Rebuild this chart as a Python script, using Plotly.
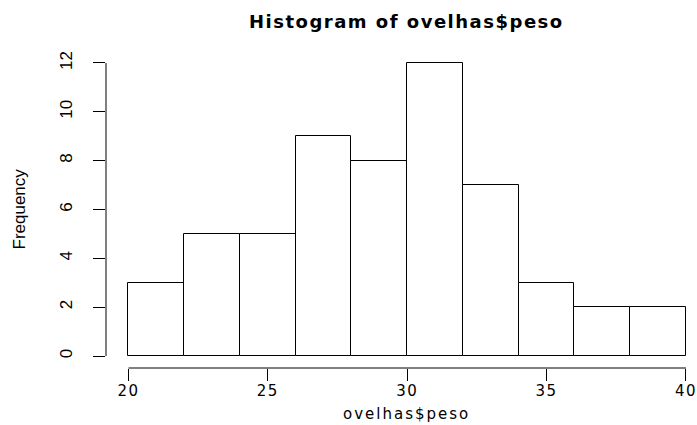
import plotly.graph_objects as go

# Histogram of sheep weights (ovelhas$peso), 2-kg bins
bin_edges = [20, 22, 24, 26, 28, 30, 32, 34, 36, 38, 40]
counts = [3, 5, 5, 9, 8, 12, 7, 3, 2, 2]
x_ticks = [20, 25, 30, 35, 40]
y_ticks = [0, 2, 4, 6, 8, 10, 12]

title_text = "Histogram of ovelhas$peso"
x_title = "ovelhas$peso"
y_title = "Frequency"

mids = [(a + b) / 2 for a, b in zip(bin_edges[:-1], bin_edges[1:])]
widths = [b - a for a, b in zip(bin_edges[:-1], bin_edges[1:])]

WIDE = "DejaVu Sans, Liberation Sans, Arial, sans-serif"
NARROW = "Liberation Sans Narrow, Liberation Sans, Arial, sans-serif"


def spaced(s, px):
    return f'<span style="letter-spacing:{px}px">{s}</span>'


fig = go.Figure()
fig.add_trace(go.Bar(
    x=mids, y=counts, width=widths,
    marker=dict(color="white", line=dict(color="black", width=1)),
    hoverinfo="x+y", showlegend=False,
))

fig.update_layout(
    width=697, height=425,
    margin=dict(l=106, r=0, t=51, b=57),
    paper_bgcolor="white", plot_bgcolor="white",
    bargap=0,
    xaxis=dict(
        range=[19.193, 40.395], showgrid=False, zeroline=False, showline=False,
        tickmode="array", tickvals=x_ticks,
        ticktext=[spaced(str(v), 1.5) for v in x_ticks],
        ticks="outside", ticklen=12, tickwidth=1, tickcolor="black",
        tickfont=dict(family=WIDE, size=15, color="black"),
        ticklabelstandoff=-3, ticklabeloverflow="allow",
    ),
    yaxis=dict(
        range=[-0.491, 12.491], showgrid=False, zeroline=False, showline=False,
        tickmode="array", tickvals=y_ticks,
        ticks="outside", ticklen=12, tickwidth=1, tickcolor="black",
        tickangle=-90,
        tickfont=dict(family=NARROW, size=17, color="black"),
        ticklabelstandoff=14,
    ),
    shapes=[
        # R-style detached axis lines spanning only the tick range
        dict(type="line", xref="x", yref="paper", x0=x_ticks[0], x1=x_ticks[-1],
             y0=0, y1=0, line=dict(color="black", width=1)),
        dict(type="line", xref="paper", yref="y", x0=0, x1=0,
             y0=y_ticks[0], y1=y_ticks[-1], line=dict(color="black", width=1)),
    ],
    annotations=[
        dict(text="<b>" + spaced(title_text, 1.5) + "</b>", xref="paper", yref="paper",
             x=0.509, y=1, yshift=30, xanchor="center", yanchor="middle",
             showarrow=False, font=dict(family=WIDE, size=18, color="black")),
        dict(text=spaced(x_title, 2), xref="paper", yref="paper",
             x=0.509, y=0, yshift=-46, xanchor="center", yanchor="middle",
             showarrow=False, font=dict(family=WIDE, size=15, color="black")),
        dict(text=y_title, xref="paper", yref="paper",
             x=0, xshift=-87, y=0.5, xanchor="center", yanchor="middle",
             textangle=-90, showarrow=False,
             font=dict(family=NARROW, size=17, color="black")),
    ],
)

fig.write_html("out.html")
